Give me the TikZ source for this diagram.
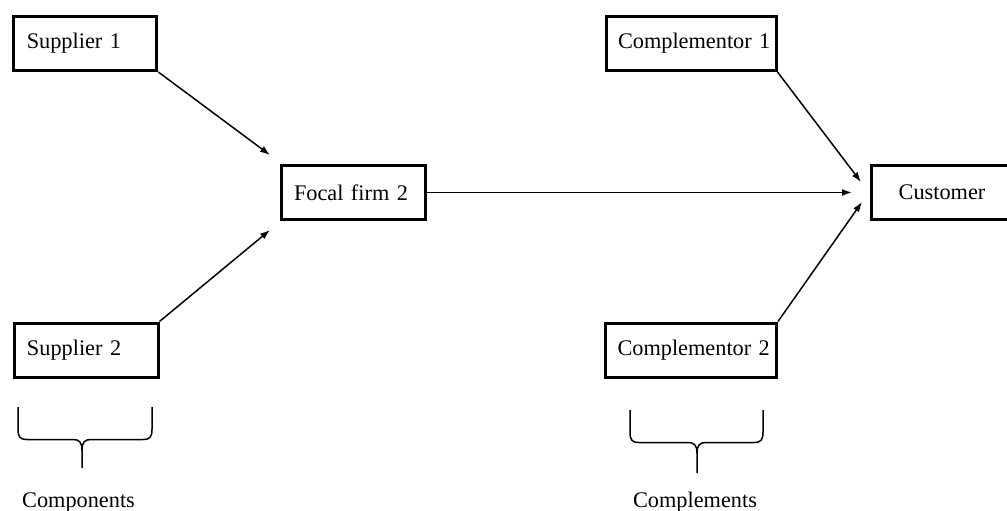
\documentclass[tikz,border=0pt]{standalone}
\usepackage{fontspec}
\setmainfont{Liberation Serif}
\usetikzlibrary{arrows.meta}
\begin{document}
\begin{tikzpicture}[x=1pt,y=-1pt,
  box/.style={draw, line width=3pt, rectangle, minimum height=54pt,
    inner xsep=13pt, inner ysep=0pt, align=left,
    font=\fontsize{22.3}{26}\selectfont},
  link/.style={line width=1.5pt, -{Latex[length=10pt,width=7pt]}},
  brace/.style={line width=1.5pt},
  caption/.style={anchor=base, inner sep=0pt, font=\fontsize{22.3}{26}\selectfont}]
\useasboundingbox (0,0) rectangle (1007,511);
\clip (0,0) rectangle (1007,511);

% firms
\node[box, minimum width=143pt, text width=117pt] (s1) at (85.3,43.5) {Supplier~1};
\node[box, minimum width=144pt, text width=118pt] (s2) at (86,350) {Supplier~2};
\node[box, minimum width=144pt, text width=118pt] (focal) at (353,192.5) {Focal~firm~2};
\node[box, minimum width=170pt, inner xsep=12pt, text width=146pt] (c1) at (691,43.5) {\mbox{Complementor 1}};
\node[box, minimum width=171pt, inner xsep=12pt, text width=147pt] (c2) at (691,350) {\mbox{Complementor 2}};
\node[box, minimum width=142pt, text width=116pt, align=center] (cust) at (942,192.5) {Customer};

% arrow tips
\coordinate (t1) at (270,155);
\coordinate (t2) at (270,230);
\coordinate (t3) at (852,192.5);
\coordinate (t4) at (861,182);
\coordinate (t5) at (862,202);

\draw[link] (s1.south east) -- (t1);
\draw[link] (s2.north east) -- (t2);
\draw[link] (focal.east) -- (t3);
\draw[link] (c1.south east) -- (t4);
\draw[link] (c2.north east) -- (t5);

% braces
\draw[brace] (18,407) -- (18,429) .. controls (18,437) and (20,439.5) .. (27,439.5)
  -- (73,439.5) .. controls (79,439.5) and (82,442) .. (82,450) -- (82,468);
\draw[brace] (82,450) .. controls (82,442) and (85,439.5) .. (91,439.5)
  -- (143,439.5) .. controls (150,439.5) and (152,437) .. (152,429) -- (152,407);
\draw[brace] (630,410) -- (630,432) .. controls (630,440) and (632,442.5) .. (639,442.5)
  -- (688,442.5) .. controls (694,442.5) and (697,445) .. (697,453) -- (697,473);
\draw[brace] (697,453) .. controls (697,445) and (700,442.5) .. (706,442.5)
  -- (754,442.5) .. controls (761,442.5) and (763,440) .. (763,432) -- (763,410);

\node[caption] (comp) at (78.5,507) {Components};
\node[caption] (compl) at (695,507) {Complements};
\end{tikzpicture}
\end{document}
